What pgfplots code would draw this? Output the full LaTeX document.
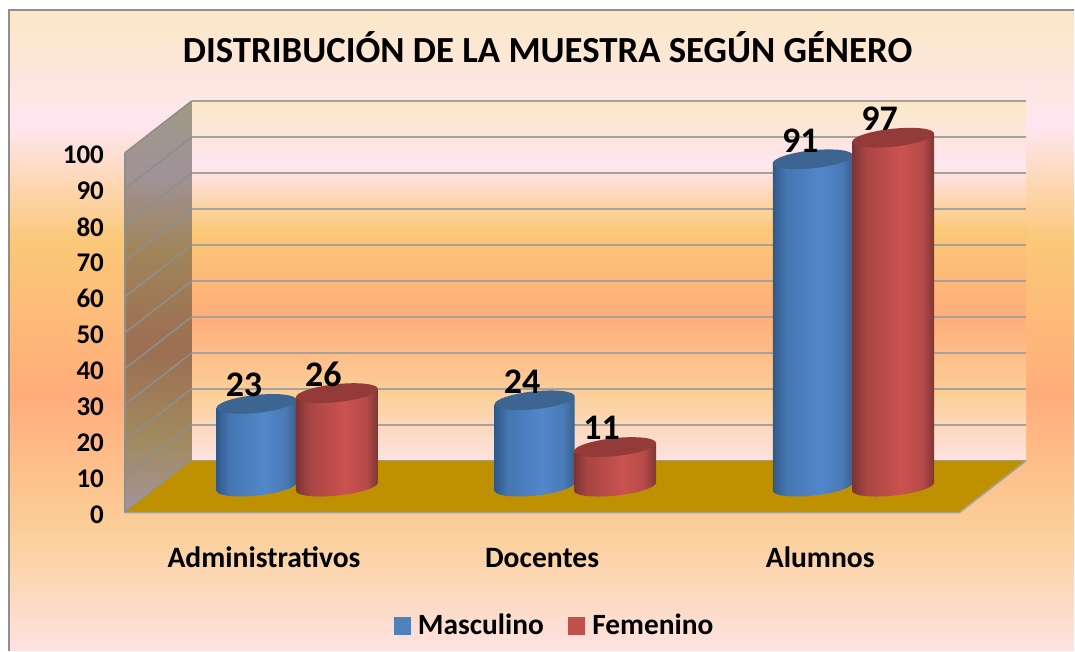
\documentclass[border=0pt]{standalone}
\usepackage{fontspec}
\setmainfont{Carlito}
\usepackage{pgfplots}
\usepackage{pgfplotstable}
\pgfplotsset{compat=1.18}

\definecolor{framegray}{HTML}{8F8F8F}
\definecolor{gridgray}{HTML}{A5A29B}
\definecolor{sidegray}{HTML}{8E8E8A}
\definecolor{floorgold}{HTML}{BF9000}
\definecolor{legblue}{HTML}{4F81BD}
\definecolor{legred}{HTML}{C0504D}
\definecolor{cylbluetop}{HTML}{3C6591}
\definecolor{cylredtop}{HTML}{943B3A}

\definecolor{sa}{HTML}{FDE2E2}
\definecolor{sb}{HTML}{FBD09A}
\definecolor{sc}{HTML}{FFAD7A}
\definecolor{sd}{HTML}{FBC878}
\definecolor{se}{HTML}{FFE6F0}
\definecolor{sf}{HTML}{FBE7C6}
\definecolor{wa}{HTML}{A4949C}
\definecolor{wb}{HTML}{A08A5E}
\definecolor{wc}{HTML}{9C6E52}
\definecolor{wd}{HTML}{A0855A}
\definecolor{we}{HTML}{A09298}
\definecolor{wf}{HTML}{A09A85}
\definecolor{ba}{HTML}{30598A}
\definecolor{bb}{HTML}{4476B0}
\definecolor{bc}{HTML}{5287CC}
\definecolor{bd}{HTML}{4A7AB5}
\definecolor{be}{HTML}{38628F}
\definecolor{ra}{HTML}{7A3433}
\definecolor{rb}{HTML}{A84543}
\definecolor{rc}{HTML}{CB5250}
\definecolor{rd}{HTML}{B54A48}
\definecolor{re}{HTML}{7C3635}

% the preset gradient, 25bp is the bottom of the path and 75bp the top
\pgfdeclareverticalshading{sunset}{100bp}{
  color(0bp)=(sa); color(25bp)=(sa); color(34bp)=(sb);
  color(45bp)=(sc); color(57bp)=(sd); color(66bp)=(se);
  color(75bp)=(sf); color(100bp)=(sf)}
\pgfdeclareverticalshading{sidewall}{100bp}{
  color(0bp)=(wa); color(25bp)=(wa); color(34bp)=(wb);
  color(45bp)=(wc); color(57bp)=(wd); color(66bp)=(we);
  color(75bp)=(wf); color(100bp)=(wf)}
\pgfdeclarehorizontalshading{cylblue}{100bp}{
  color(0bp)=(ba); color(25bp)=(ba); color(33bp)=(bb);
  color(55bp)=(bc); color(68bp)=(bd); color(75bp)=(be);
  color(100bp)=(be)}
\pgfdeclarehorizontalshading{cylred}{100bp}{
  color(0bp)=(ra); color(25bp)=(ra); color(33bp)=(rb);
  color(55bp)=(rc); color(68bp)=(rd); color(75bp)=(re);
  color(100bp)=(re)}

% cylinder hanging from its data point, \val comes from the plot
\pgfdeclareplotmark{cylmasc}{%
  \pgfmathsetlengthmacro\cylh{\val*1.8pt}%
  \pgfscope
    \pgftransformshift{\pgfqpoint{-3.75pt}{13pt}}%
    \pgftransformcm{1}{0.1}{0}{1}{\pgfpointorigin}%
    \shade[draw=none,shading=cylblue] (-20pt,0pt) -- (-20pt,-\cylh) arc[start angle=180,end angle=360,x radius=20pt,y radius=4.5pt] -- (20pt,0pt) -- cycle;
    \fill[draw=none,fill=cylbluetop] (0pt,0pt) ellipse[x radius=20pt,y radius=4.5pt];
  \endpgfscope}
\pgfdeclareplotmark{cylfem}{%
  \pgfmathsetlengthmacro\cylh{\val*1.8pt}%
  \pgfscope
    \pgftransformshift{\pgfqpoint{36.5pt}{13pt}}%
    \pgftransformcm{1}{0.1}{0}{1}{\pgfpointorigin}%
    \shade[draw=none,shading=cylred] (-20.5pt,0pt) -- (-20.5pt,-\cylh) arc[start angle=180,end angle=360,x radius=20.5pt,y radius=4.5pt] -- (20.5pt,0pt) -- cycle;
    \fill[draw=none,fill=cylredtop] (0pt,0pt) ellipse[x radius=20.5pt,y radius=4.5pt];
  \endpgfscope}

\pgfplotstableread{
x masc fem
0 23 26
1 24 11
2 91 97
}\muestra

\begin{document}
\begin{tikzpicture}
  % page and chart area, the picture is 537.5pt x 325.5pt
  \fill[white] (0,0) rectangle (537.5pt,325.5pt);
  \shade[shading=sunset] (4.5pt,0pt) rectangle (537.5pt,320.5pt);
  \draw[framegray,line width=0.8pt] (4.5pt,0pt) -- (4.5pt,320.5pt) -- (537.5pt,320.5pt);
  \useasboundingbox (0,0) rectangle (537.5pt,325.5pt);

  % back wall with its grid
  \begin{axis}[
      at={(96pt,95pt)}, anchor=south west,
      scale only axis, width=417.5pt, height=180pt,
      xmin=0, xmax=1, ymin=0, ymax=100,
      xtick=\empty, ytick={0,10,...,100}, yticklabels={},
      ymajorgrids, grid style={gridgray,line width=0.9pt},
      axis line style={draw=none}, tick style={draw=none},
      axis background/.style={shading=sunset},
    ]
    \addplot[draw=none] coordinates {(0,0)(1,100)};
  \end{axis}

  % side wall and floor
  \begin{scope}[shift={(62.5pt,69pt)},yslant=0.776]
    \shade[shading=sidewall] (0,0) rectangle (33.5pt,180pt);
    \foreach \k in {0,18,...,180}
      \draw[sidegray,line width=0.8pt] (0,\k pt) -- (33.5pt,\k pt);
    \draw[sidegray,line width=0.8pt] (0,0) -- (0,180pt);
  \end{scope}
  \fill[floorgold] (62.5pt,69pt) -- (480pt,69pt) -- (513.5pt,95pt) -- (96pt,95pt) -- cycle;
  \draw[gridgray,line width=0.8pt] (62.5pt,69pt) -- (480pt,69pt) -- (513.5pt,95pt);

  % front plane: tick labels, cylinders, values, legend
  \begin{axis}[
      at={(62.5pt,69pt)}, anchor=south west,
      scale only axis, width=417.5pt, height=180pt,
      xmin=-0.5, xmax=2.5, ymin=0, ymax=100,
      clip=false,
      axis line style={draw=none}, tick style={draw=none},
      xtick={0,1,2},
      xticklabels={Administrativos,Docentes,Alumnos},
      ytick={0,10,...,100},
      /pgf/number format/assume math mode=true,
      xticklabel style={font=\fontsize{14.8}{17}\selectfont\bfseries,
        text height=10pt, text depth=0pt, yshift=-14pt},
      yticklabel style={font=\fontsize{13.5}{15}\selectfont\bfseries,
        xshift=-7pt, yshift=-1pt},
      scatter/use mapped color={draw=none,fill=none},
      legend style={at={(0.516,-0.315)}, anchor=center, draw=none, fill=none,
        legend columns=2, font=\fontsize{14.7}{17}\selectfont\bfseries,
        /tikz/every odd column/.append style={column sep=1.5pt},
        /tikz/every even column/.append style={column sep=10pt}},
    ]
    \addplot[scatter, only marks, mark=cylmasc,
      visualization depends on=y \as \val,
      legend image code/.code={\fill[legblue] (0pt,-4.1pt) rectangle (8.3pt,4.1pt);}]
      table[x=x,y=masc] {\muestra};
    \addlegendentry{Masculino}
    \addplot[scatter, only marks, mark=cylfem,
      visualization depends on=y \as \val,
      legend image code/.code={\fill[legred] (0pt,-4.1pt) rectangle (8.3pt,4.1pt);}]
      table[x=x,y=fem] {\muestra};
    \addlegendentry{Femenino}

    \addplot[forget plot, draw=none, mark=none, nodes near coords,
      every node near coord/.append style={font=\fontsize{18}{20}\selectfont\bfseries,
        anchor=center, text=black, xshift=-10pt, yshift=22.5pt,
        /pgf/number format/assume math mode=true}]
      table[x=x,y=masc] {\muestra};
    \addplot[forget plot, draw=none, mark=none, nodes near coords,
      every node near coord/.append style={font=\fontsize{18}{20}\selectfont\bfseries,
        anchor=center, text=black, xshift=29.75pt, yshift=22.5pt,
        /pgf/number format/assume math mode=true}]
      table[x=x,y=fem] {\muestra};
  \end{axis}

  \node[font=\fontsize{18.4}{22}\selectfont\bfseries] at (274pt,302pt)
    {DISTRIBUCIÓN DE LA MUESTRA SEGÚN GÉNERO};
\end{tikzpicture}
\end{document}
